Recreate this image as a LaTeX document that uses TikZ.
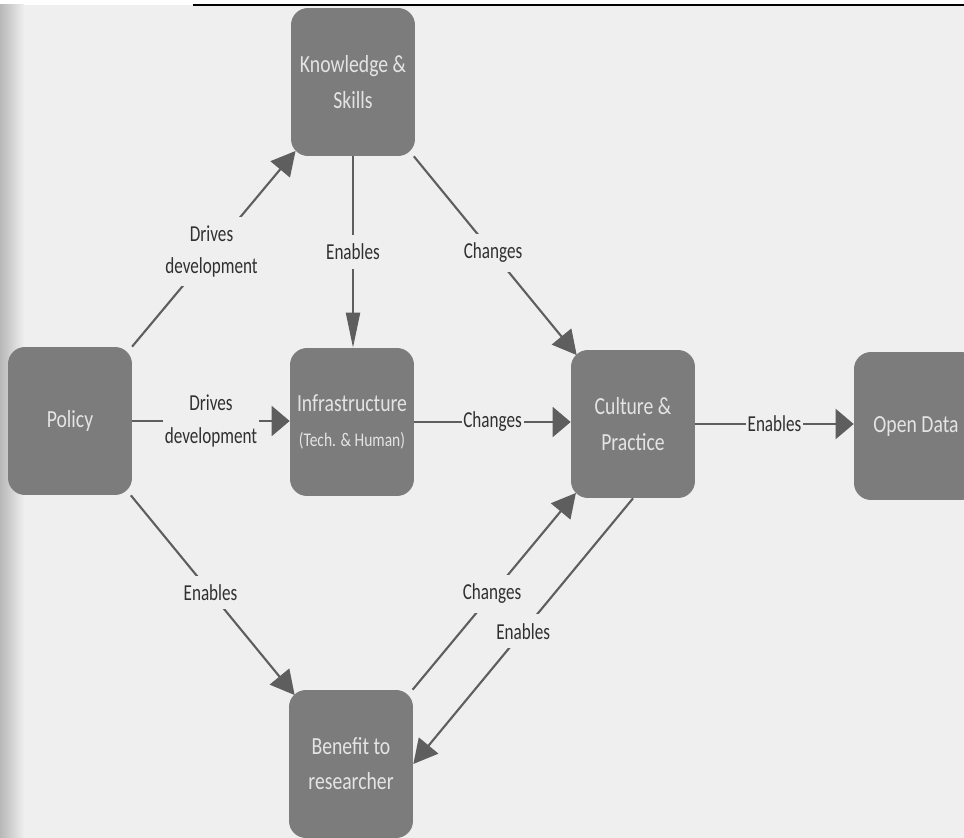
\documentclass[tikz,border=0pt]{standalone}
\usepackage{fontspec}
\setmainfont{Carlito}
\newfontfamily\lblfont[FakeStretch=0.75]{Carlito}
\newfontfamily\boxfont[FakeStretch=0.8]{Carlito}
\usetikzlibrary{arrows.meta,backgrounds}
\definecolor{bg}{HTML}{EFEFEF}
\definecolor{boxgray}{HTML}{7C7C7C}
\definecolor{boxtext}{HTML}{E4E4E4}
\definecolor{linegray}{HTML}{5E5E5E}
\definecolor{lbltext}{HTML}{303030}
\begin{document}
\begin{tikzpicture}[x=0.02cm,y=-0.02cm,
  box/.style={fill=boxgray, draw=none, rounded corners=0.34cm,
    minimum width=2.48cm, minimum height=2.96cm, align=center,
    text=boxtext, font=\boxfont\fontsize{14}{20}\selectfont, inner sep=0pt},
  lbl/.style={fill=bg, text=lbltext, font=\lblfont\fontsize{13}{18.7}\selectfont,
    align=center, inner xsep=1pt, inner ysep=5pt},
  conn/.style={draw=linegray, line width=1.2pt},
  hhead/.style={-{Triangle[length=0.36cm,width=0.6cm]}},
  vhead/.style={-{Triangle[length=0.7cm,width=0.28cm]}},
  dhead/.style={-{Triangle[length=0.48cm,width=0.5cm]}, shorten >=-0.14cm},
]
\useasboundingbox (0,0) rectangle (964,838);

% nodes
\node[box] (K) at (353,82) {Knowledge \&\\Skills};
\node[box] (P) at (70,421) {Policy};
\node[box] (I) at (352,422) {Infrastructure\\{\fontsize{11}{14}\selectfont (Tech. \& Human)}};
\node[box] (C) at (633,424) {Culture \&\\Practice};
\node[box] (O) at (916,426) {Open Data};
\node[box] (B) at (351,764) {Benefit to\\researcher};

\begin{pgfonlayer}{background}
  % page
  \fill[bg] (0,0) rectangle (964,838);
  \fill[white] (0,0) rectangle (964,5);
  \shade[left color=black!28, right color=bg] (0,5) rectangle (24,838);
  \draw[black, line width=1.2pt] (193,5) -- (964,5);

  % connectors
  \draw[conn,dhead] (P) -- node[lbl]{Drives\\development} (K);
  \draw[conn,vhead] (K.south) -- node[lbl]{Enables} (K.south |- I.north);
  \draw[conn,dhead] (K) -- node[lbl]{Changes} (C);
  \draw[conn,hhead] (P.east) -- node[lbl]{Drives\\development} (P.east -| I.west);
  \draw[conn,hhead] (I.east) -- node[lbl]{Changes} (I.east -| C.west);
  \draw[conn,hhead] (C.east) -- node[lbl]{Enables} (C.east -| O.west);
  \draw[conn,dhead] (P) -- node[lbl]{Enables} (B);
  \draw[conn,dhead] (B) -- node[lbl]{Changes} (C);
  \draw[conn,dhead,shorten >=0pt] (C.south) -- node[lbl]{Enables} (B.east);
\end{pgfonlayer}
\end{tikzpicture}
\end{document}
